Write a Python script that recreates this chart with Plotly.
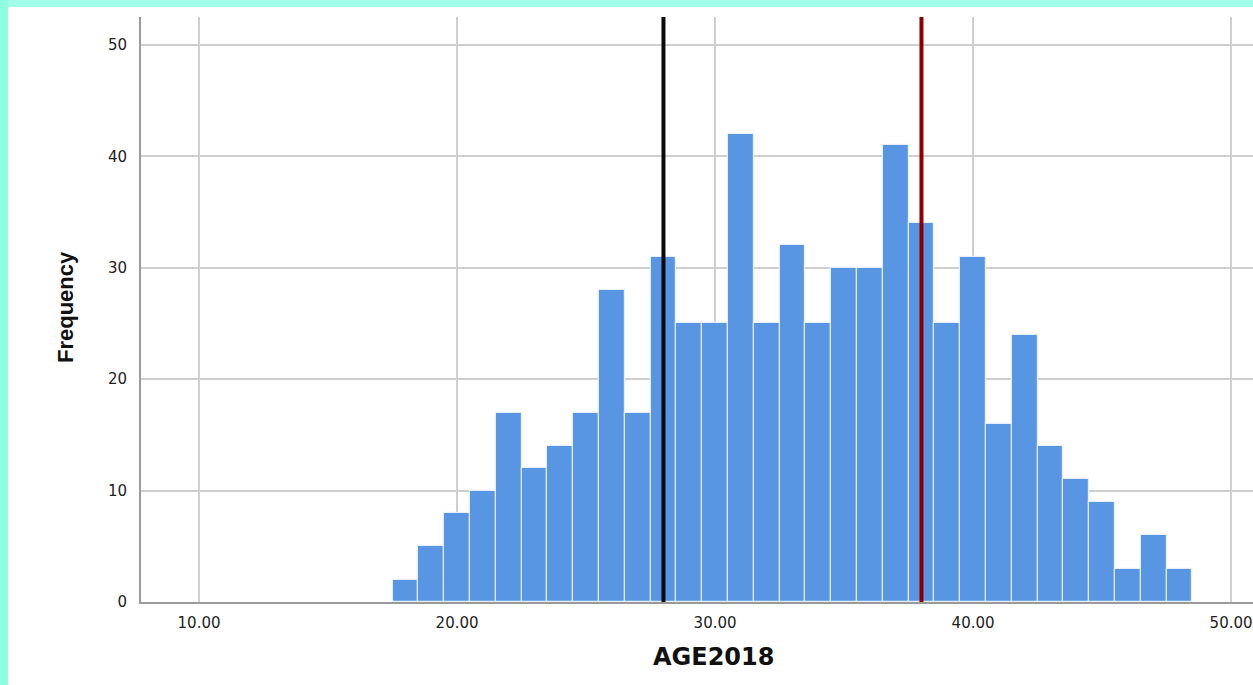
import plotly.graph_objects as go

# Data: histogram of AGE2018, bins of width 1 from 17.5 to 48.5
bin_centers = [18, 19, 20, 21, 22, 23, 24, 25, 26, 27, 28, 29, 30, 31, 32, 33,
               34, 35, 36, 37, 38, 39, 40, 41, 42, 43, 44, 45, 46, 47, 48]
frequencies = [2, 5, 8, 10, 17, 12, 14, 17, 28, 17, 31, 25, 25, 42, 25, 32,
               25, 30, 30, 41, 34, 25, 31, 16, 24, 14, 11, 9, 3, 6, 3]
bin_width = 1
x_tick_values = [10, 20, 30, 40, 50]
x_tick_labels = ["10.00", "20.00", "30.00", "40.00", "50.00"]
y_tick_values = [0, 10, 20, 30, 40, 50]
ref_lines = [28, 38]
ref_colors = ["#0a0a0a", "#8e0000"]

fig = go.Figure()
fig.add_trace(go.Bar(
    x=bin_centers, y=frequencies, width=[bin_width] * len(bin_centers),
    marker=dict(color="#5895e3", line=dict(color="rgba(235,242,252,0.9)", width=1.2)),
    showlegend=False,
))

shapes = [
    # mint frame strips
    dict(type="rect", xref="paper", yref="paper", x0=-0.2, x1=1.1,
         y0=(602 - 7) / 585, y1=1.2, fillcolor="#a0fde8", line_width=0, layer="below"),
    dict(type="rect", xref="paper", yref="paper", x0=-0.2, x1=(8 - 141) / 1112,
         y0=-0.3, y1=1.2, fillcolor="#8efee0", line_width=0, layer="below"),
]
for xv, col in zip(ref_lines, ref_colors):
    shapes.append(dict(type="line", xref="x", yref="paper", x0=xv, x1=xv, y0=0, y1=1,
                       line=dict(color=col, width=4), layer="above"))

font_tick = dict(family="DejaVu Sans, Arial, sans-serif", size=15, color="#222222")

fig.update_layout(
    width=1253, height=685,
    margin=dict(l=141, r=0, t=17, b=83),
    paper_bgcolor="white", plot_bgcolor="white",
    bargap=0,
    shapes=shapes,
    xaxis=dict(range=[7.75, 50.85], tickvals=x_tick_values, ticktext=x_tick_labels,
               showgrid=True, gridcolor="#cfcfcf", gridwidth=1.5,
               showline=True, linecolor="#9a9a9a", linewidth=2,
               zeroline=False, ticks="", tickfont=font_tick, ticklabelstandoff=6),
    yaxis=dict(range=[0, 52.5], tickvals=y_tick_values,
               showgrid=True, gridcolor="#cfcfcf", gridwidth=1.5,
               showline=True, linecolor="#9a9a9a", linewidth=2,
               zeroline=False, ticks="", tickfont=font_tick, ticklabelstandoff=9),
    annotations=[
        dict(text="<b>AGE2018</b>", xref="paper", yref="paper",
             x=(713 - 141) / 1112, y=(602 - 657) / 585, showarrow=False,
             xanchor="center", yanchor="middle",
             font=dict(family="DejaVu Sans, Arial, sans-serif", size=24, color="#111111")),
        dict(text="<b>Frequency</b>", xref="paper", yref="paper",
             x=(65 - 141) / 1112, y=(602 - 307) / 585, showarrow=False, textangle=-90,
             xanchor="center", yanchor="middle",
             font=dict(family="Liberation Sans, Arial, sans-serif",
                       size=22, color="#111111")),
    ],
)

fig.write_html(
    "out.html",
    config={"displayModeBar": False},
    post_script="document.body.style.margin='0';document.body.style.padding='0';"
                "document.body.style.overflow='hidden';",
)
